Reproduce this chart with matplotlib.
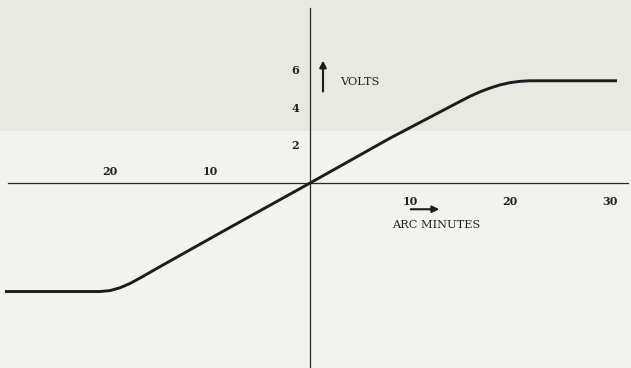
import matplotlib
matplotlib.use('Agg')
import matplotlib.pyplot as plt
from matplotlib.patches import Rectangle

# transfer curve: error (arc minutes) -> output (volts)
arc_min = [-30.5, -21.0, -20.0, -19.0, -18.0, -17.0, -15.3, -8.7, 0.0,
           8.0, 14.7, 16.0, 17.0, 18.0, 19.0, 20.0, 21.0, 22.0, 30.7]
volts = [-5.8, -5.8, -5.75, -5.6, -5.37, -5.08, -4.56, -2.58, 0.0,
         2.4, 4.28, 4.64, 4.88, 5.08, 5.25, 5.37, 5.44, 5.47, 5.47]

x_ticks_right = [10, 20, 30]
x_ticks_left = [-10, -20]
y_ticks = [2, 4, 6]

fig = plt.figure(figsize=(6.31, 3.68), dpi=100)
fig.patch.set_facecolor('#f2f3ef')

ax = fig.add_axes([0, 0, 1, 1])
ax.set_facecolor('#f2f3ef')
# scanned page: slightly darker upper band
ax.add_patch(Rectangle((0, 0.645), 1, 0.355, transform=ax.transAxes,
                       facecolor='#e8e9e0', edgecolor='none', zorder=0))
ax.set_xlim(-31, 32.1)
ax.set_ylim(-9.89, 9.79)

for s in ['top', 'right']:
    ax.spines[s].set_visible(False)
ax.spines['left'].set_position(('data', 0))
ax.spines['bottom'].set_position(('data', 0))
ax.spines['left'].set_bounds(-9.89, 9.35)
ax.spines['bottom'].set_bounds(-30.2, 31.8)
for s in ['left', 'bottom']:
    ax.spines[s].set_color('#2a2a2a')
    ax.spines[s].set_linewidth(0.9)
ax.set_xticks([])
ax.set_yticks([])

ax.plot(arc_min, volts, color='#1c1c1c', lw=2.1, solid_capstyle='butt',
        solid_joinstyle='round', zorder=3)

num_font = dict(family='DejaVu Serif', fontsize=8, fontweight='bold', color='#222222')
for t in x_ticks_right:
    ax.text(t, -0.7, str(t), ha='center', va='top', **num_font)
for t in x_ticks_left:
    ax.text(t, 0.3, str(abs(t)), ha='center', va='bottom', **num_font)
for t in y_ticks:
    ax.text(-1.1, t, str(t), ha='right', va='center', **num_font)

lab_font = dict(family='DejaVu Serif', fontsize=8.2, color='#222222')
ax.text(3.0, 5.4, 'VOLTS', ha='left', va='center', **lab_font)
ax.annotate('', xy=(1.3, 6.7), xytext=(1.3, 4.75),
            arrowprops=dict(arrowstyle='-|>', color='#1c1c1c', lw=1.5,
                            mutation_scale=10))
ax.text(12.6, -2.25, 'ARC MINUTES', ha='center', va='center', **lab_font)
ax.annotate('', xy=(13.2, -1.4), xytext=(9.8, -1.4),
            arrowprops=dict(arrowstyle='-|>', color='#1c1c1c', lw=1.5,
                            mutation_scale=10))

fig.savefig('out.png', dpi=100, facecolor=fig.get_facecolor())
